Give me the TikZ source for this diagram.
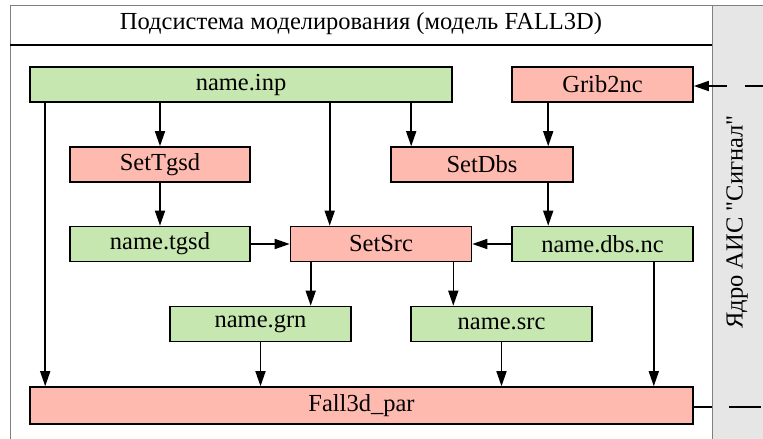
\documentclass[tikz,border=0pt]{standalone}
\usepackage{fontspec}
\setmainfont{Liberation Serif}
\newfontfamily\plainserif{Liberation Serif}
\usepackage{tikz}
\usetikzlibrary{arrows.meta,positioning}
\definecolor{datgreen}{RGB}{198,231,175}
\definecolor{procred}{RGB}{255,186,176}
\definecolor{panelgray}{RGB}{230,230,230}

\begin{document}
\begin{tikzpicture}[
  x=1pt, y=-1pt,
  blk/.style={draw, line width=1.6pt, minimum height=35pt, inner sep=0pt, font=\fontsize{24.5}{27}\selectfont},
  dat/.style={blk, fill=datgreen},
  proc/.style={blk, fill=procred},
  arr/.style={-{Triangle[length=15pt,width=10pt]}, line width=1.6pt},
]
\useasboundingbox (0,0) rectangle (763,439);
% Frame and side panel
\fill[panelgray] (712,5) rectangle (763,439);
\draw[gray, line width=1pt] (10,439) -- (10,5) -- (763,5) (712,5) -- (712,439);
\draw[line width=1.2pt] (10,45) -- (712,45);
\node[font=\fontsize{24.5}{27}\selectfont] (title) at (361,24) {Подсистема моделирования (модель FALL3D)};
\node[font=\plainserif\fontsize{24.5}{27}\selectfont, rotate=90] (core) at (737,222) {Ядро АИС "Сигнал"};
% Row 1
\node[dat, minimum width=422pt] (inp) at (241,84.5) {name.inp};
\node[proc, minimum width=181pt] (grib) at (602.5,84.5) {Grib2nc};
% Row 2
\node[proc, minimum width=180pt] (tgsd) at (160,164.5) {SetTgsd};
\node[proc, minimum width=182pt] (dbs) at (482,164.5) {SetDbs};
% Row 3
\node[dat, minimum width=180pt] (ntgsd) at (160,244) {name.tgsd};
\node[proc, minimum width=181pt] (src) at (381,244) {SetSrc};
\node[dat, minimum width=181pt] (ndbs) at (602.5,244) {name.dbs.nc};
% Row 4
\node[dat, minimum width=181pt] (grn) at (260.5,324) {name.grn};
\node[dat, minimum width=181pt] (nsrc) at (501.5,324) {name.src};
% Bottom
\node[proc, minimum width=663pt, minimum height=37pt] (par) at (361.5,405.5) {Fall3d\_par};
% Links to the core
\coordinate (sigtop) at (763,86);
\coordinate (sigbot) at (763,407);
\draw[arr, dash pattern=on 18pt off 18pt] (sigtop) -- (grib.east |- sigtop);
\draw[line width=1.6pt, dash pattern=on 18pt off 17pt on 32pt off 20pt] (par.east |- sigbot) -- (sigbot);
% Arrows from name.inp
\draw[arr] ([xshift=16pt]inp.south west) -- ([xshift=16pt]par.north west);
\draw[arr] (inp.south -| tgsd.north) -- (tgsd.north);
\draw[arr] ([xshift=40pt]src.north west |- inp.south) -- ([xshift=40pt]src.north west);
\draw[arr] ([xshift=21pt]dbs.north west |- inp.south) -- ([xshift=21pt]dbs.north west);
\draw[arr] ([xshift=37pt]grib.south west) -- ([xshift=37pt]grib.south west |- dbs.north);
% Middle arrows
\draw[arr] (tgsd.south) -- (ntgsd.north);
\draw[arr] ([xshift=37pt]ndbs.north west |- dbs.south) -- ([xshift=37pt]ndbs.north west);
\draw[arr] (ntgsd.east) -- (src.west);
\draw[arr] (ndbs.west) -- (src.east);
\draw[arr] ([xshift=21pt]src.south west) -- ([xshift=21pt]src.south west |- grn.north);
\draw[arr] ([xshift=-19pt]src.south east) -- ([xshift=-19pt]src.south east |- nsrc.north);
% Arrows into Fall3d_par
\draw[arr] (grn.south) -- (grn.south |- par.north);
\draw[arr] (nsrc.south) -- (nsrc.south |- par.north);
\draw[arr] ([xshift=-40pt]ndbs.south east) -- ([xshift=-40pt]ndbs.south east |- par.north);
\end{tikzpicture}
\end{document}
